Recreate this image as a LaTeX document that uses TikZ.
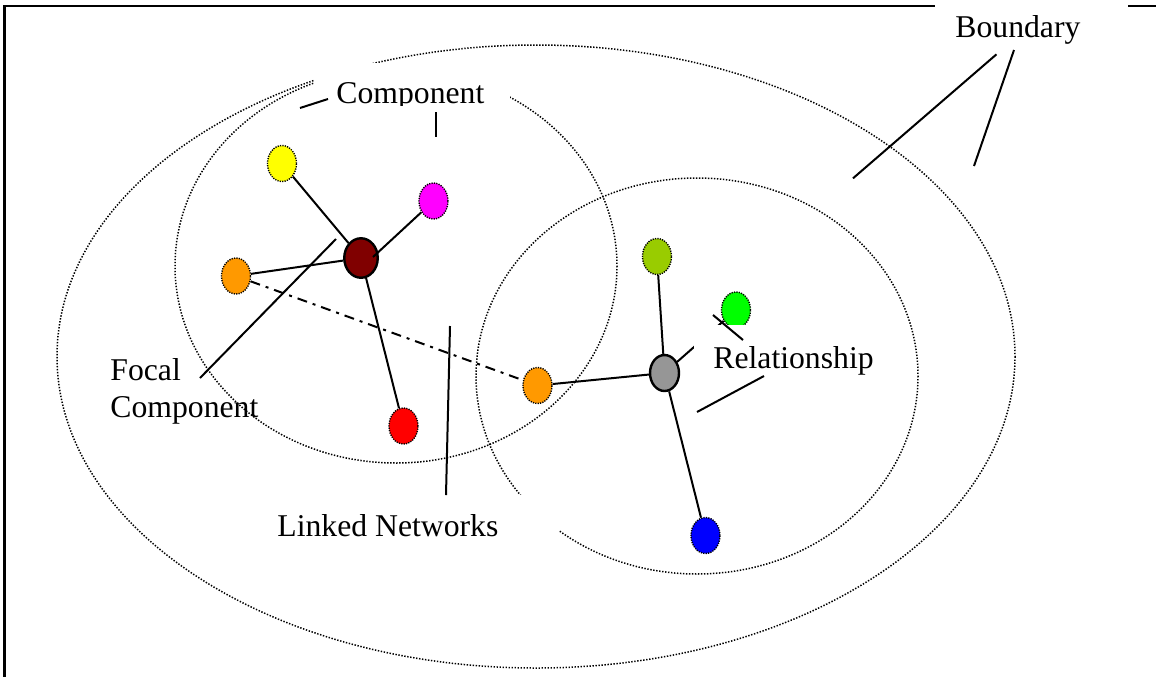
\documentclass[tikz,border=0pt]{standalone}
\usepackage{fontspec}
\setmainfont{Liberation Serif}
\usetikzlibrary{shapes.geometric}

\definecolor{cyellow}{HTML}{FFFF00}
\definecolor{cmagenta}{HTML}{FF00FF}
\definecolor{cmaroon}{HTML}{800000}
\definecolor{corange}{HTML}{FF9900}
\definecolor{cred}{HTML}{FF0000}
\definecolor{colive}{HTML}{99CC00}
\definecolor{cgreen}{HTML}{00FF00}
\definecolor{cgray}{HTML}{969696}
\definecolor{cblue}{HTML}{0000FF}

\begin{document}
\begin{tikzpicture}[x=0.5pt,y=-0.5pt,
  netring/.style={line width=0.75pt, dash pattern=on 0.7pt off 0.8pt},
  member/.style={ellipse, inner sep=0pt, minimum width=14.5pt, minimum height=18pt,
                 draw, line width=0.7pt, dash pattern=on 0.6pt off 0.6pt},
  hub/.style={ellipse, inner sep=0pt, draw, line width=1.2pt},
  nettie/.style={line width=1pt},
  leadline/.style={line width=1pt},
  lbl/.style={inner sep=0pt, anchor=base west, font=\fontsize{15.85}{18.5}\selectfont},
]
\useasboundingbox (0,0) rectangle (1156,676);
\clip (0,0) rectangle (1156,676);

% frame
\draw[line width=1.35pt] (4.7,690) -- (4.7,6) -- (1170,6);

% boundary and the two linked networks
\draw[netring] (536,356.5) ellipse [x radius=479, y radius=311.5];
\draw[netring] (396,266) ellipse [x radius=221, y radius=197];
\draw[netring] (697,376) ellipse [x radius=221, y radius=198];

% first network
\node[member, fill=cyellow]  (yel) at (282,163.5) {};
\node[member, fill=cmagenta] (mag) at (433.5,201) {};
\node[hub, fill=cmaroon, minimum width=16.75pt, minimum height=19.75pt] (foc) at (361,258) {};
\node[member, fill=corange]  (or1) at (236,276) {};
\node[member, fill=cred]     (red) at (403.5,426) {};

% second network
\node[member, fill=colive] (oli) at (657,256.5) {};
\node[member, fill=cgreen] (grn) at (736,310) {};
\node[hub, fill=cgray, minimum width=14.5pt, minimum height=18pt] (rel) at (664.5,373) {};
\node[member, fill=corange] (or2) at (537.5,385.5) {};
\node[member, fill=cblue]  (blu) at (705.5,535.5) {};

% ties
\coordinate (mj) at (373,257);
\draw[nettie] (yel) -- (foc);
\draw[nettie] (mag) -- (mj);
\draw[nettie] (or1) -- (foc);
\draw[nettie] (foc) -- (red);
\draw[nettie, dash pattern=on 5pt off 3pt on 1.5pt off 3pt] (or1) -- (or2);
\draw[nettie] (oli) -- (rel);
\draw[nettie] (or2) -- (rel);
\draw[nettie] (rel) -- (blu);
\draw[nettie] (rel) -- (grn);

% labels on white boxes
\fill[white] (935,0) rectangle (1128,47);
\node[lbl] (tbound) at (955,37.5) {Boundary};

\begin{scope}
  \clip (314,63) rectangle (510,105);
  \fill[white] (314,63) rectangle (510,105);
  \node[lbl] (tcomp) at (336,103) {Component};
\end{scope}

\node[lbl, align=left] (tfocal) at (110,417) {Focal\\Component};

\fill[white] (270,495) rectangle (559,550);
\node[lbl] (tlinked) at (277,536) {Linked Networks};

\fill[white] (694,325) rectangle (885,379);
\node[lbl] (trel) at (713,368) {Relationship};

% leader lines
\coordinate (b1a) at (996.5,54.3);  \coordinate (b1b) at (853,178.3);
\coordinate (b2a) at (1014,50);     \coordinate (b2b) at (974,166);
\coordinate (c1a) at (328,99);      \coordinate (c1b) at (300,108);
\coordinate (c2a) at (436,112);     \coordinate (c2b) at (436,137);
\coordinate (f1a) at (200,378);     \coordinate (f1b) at (336,239);
\coordinate (l1a) at (446,495);     \coordinate (l1b) at (450,326);
\coordinate (r1a) at (713,315);     \coordinate (r1b) at (743,340);
\coordinate (r2a) at (764,376);     \coordinate (r2b) at (697,412);
\draw[leadline] (b1a) -- (b1b);
\draw[leadline] (b2a) -- (b2b);
\draw[leadline] (c1a) -- (c1b);
\draw[leadline] (c2a) -- (c2b);
\draw[leadline] (f1a) -- (f1b);
\draw[leadline] (l1a) -- (l1b);
\draw[leadline] (r1a) -- (r1b);
\draw[leadline] (r2a) -- (r2b);
\end{tikzpicture}
\end{document}
